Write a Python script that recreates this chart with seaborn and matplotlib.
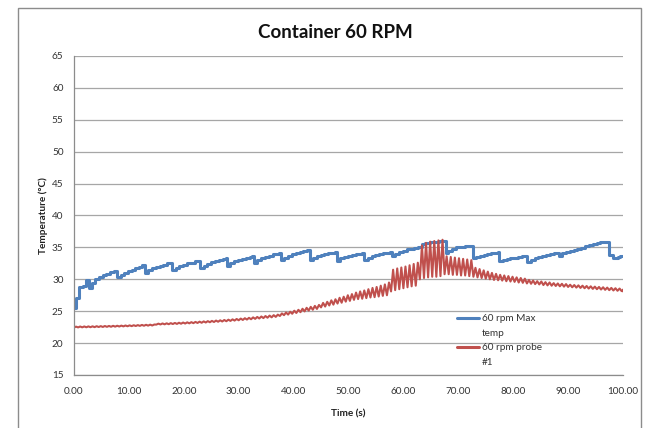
import numpy as np
import pandas as pd
import matplotlib
matplotlib.use("Agg")
import matplotlib.pyplot as plt
from matplotlib.patches import Rectangle
from matplotlib.ticker import StrMethodFormatter
from matplotlib.legend_handler import HandlerLine2D
import seaborn as sns

# ---- data -------------------------------------------------------------
# "60 rpm Max temp": stepped sensor reading, (time s, temperature degC) at each change
max_time = [0.0, 0.3, 0.9, 1.6, 2.2, 2.8, 3.3, 3.9, 4.5, 5.2, 5.9, 6.6, 7.2,
            7.9, 8.5, 9.1, 9.8, 10.5, 11.2, 11.9, 12.4,
            12.9, 13.5, 14.2, 14.9, 15.6, 16.3, 17.0, 17.5,
            17.9, 18.5, 19.2, 19.9, 20.6, 21.3, 22.0, 22.6,
            23.0, 23.6, 24.3, 25.0, 25.7, 26.4, 27.1, 27.6,
            27.9, 28.5, 29.2, 29.9, 30.6, 31.3, 32.0, 32.5,
            32.8, 33.4, 34.1, 34.8, 35.5, 36.2, 36.9, 37.4,
            37.7, 38.3, 39.0, 39.7, 40.4, 41.1, 41.8, 42.4,
            42.9, 43.5, 44.2, 44.9, 45.6, 46.3, 47.0, 47.5,
            47.9, 48.5, 49.2, 49.9, 50.6, 51.3, 52.0, 52.5,
            52.9, 53.5, 54.2, 54.9, 55.6, 56.3, 57.0, 57.5,
            57.9, 58.5, 59.2, 59.9, 60.6, 61.3, 62.0, 62.6, 63.3, 64.0, 64.8, 65.6, 66.4, 67.0,
            67.7, 68.2, 68.8, 69.5, 70.3, 71.2,
            72.6, 73.2, 73.9, 74.6, 75.3, 76.0, 76.7, 77.2,
            77.5, 78.1, 78.8, 79.5, 80.2, 80.9, 81.6, 82.2,
            82.6, 83.2, 83.9, 84.6, 85.3, 86.0, 86.7, 87.4,
            88.3, 88.9, 89.6, 90.3, 91.0, 91.7, 92.4, 93.1, 93.8, 94.5, 95.2, 95.9, 96.6, 97.1,
            97.5, 98.2, 99.0, 99.5, 100.0]
max_temp = [25.5, 27.0, 28.8, 29.0, 29.9, 28.7, 29.4, 30.0, 30.4, 30.7, 30.9, 31.1, 31.3,
            30.3, 30.7, 31.0, 31.3, 31.5, 31.7, 31.9, 32.2,
            31.0, 31.4, 31.7, 31.9, 32.1, 32.3, 32.5, 32.6,
            31.45, 31.8, 32.1, 32.3, 32.5, 32.6, 32.8, 32.9,
            31.7, 32.1, 32.4, 32.7, 32.9, 33.1, 33.2, 33.3,
            32.1, 32.5, 32.8, 33.0, 33.2, 33.4, 33.5, 33.65,
            32.6, 33.0, 33.3, 33.5, 33.7, 33.9, 34.0, 34.15,
            33.0, 33.4, 33.7, 33.9, 34.1, 34.3, 34.4, 34.6,
            33.1, 33.4, 33.7, 33.8, 34.0, 34.1, 34.2, 34.3,
            32.9, 33.3, 33.5, 33.7, 33.8, 33.9, 34.0, 34.1,
            33.1, 33.4, 33.6, 33.8, 34.0, 34.1, 34.2, 34.3,
            33.7, 34.0, 34.3, 34.5, 34.7, 34.8, 34.9, 35.0, 35.6, 35.7, 35.8, 35.9, 36.0, 36.05,
            34.2, 34.5, 34.8, 35.0, 35.1, 35.2,
            33.3, 33.5, 33.7, 33.8, 34.0, 34.1, 34.2, 34.3,
            32.9, 33.1, 33.2, 33.3, 33.4, 33.5, 33.6, 33.65,
            32.7, 33.0, 33.3, 33.5, 33.7, 33.8, 34.0, 34.1,
            33.6, 34.1, 34.3, 34.5, 34.6, 34.8, 34.9, 35.2, 35.4, 35.6, 35.7, 35.8, 35.85, 35.9,
            33.8, 33.3, 33.5, 33.6, 33.6]

# "60 rpm probe #1": one trough and one peak per revolution cycle
probe_period = 0.75
probe_low = [22.45, 22.46, 22.47, 22.48, 22.49, 22.50, 22.52, 22.53, 22.55, 22.56,
             22.58, 22.60, 22.62, 22.64, 22.66, 22.68, 22.70, 22.72, 22.74, 22.76,
             22.90, 22.92, 22.94, 22.96, 22.99, 23.01, 23.04, 23.07, 23.10, 23.13,
             23.16, 23.19, 23.23, 23.27, 23.31, 23.35, 23.39, 23.43, 23.48, 23.53,
             23.58, 23.63, 23.69, 23.74, 23.80, 23.86, 23.92, 23.98, 24.04, 24.11,
             24.25, 24.38, 24.47, 24.60, 24.72, 24.85, 24.97, 25.10, 25.23, 25.36,
             25.60, 25.73, 25.90, 26.03, 26.20, 26.33, 26.50, 26.62, 26.78, 26.90,
             26.95, 27.05, 27.15, 27.20, 27.30, 27.40, 27.50, 28.10, 28.30, 28.45,
             28.60, 28.75, 28.90, 29.00, 30.00, 30.20, 30.30, 30.40, 30.40, 30.50,
             30.80, 30.80, 30.70, 30.70, 30.60, 30.60, 30.50, 30.40, 30.30, 30.20,
             30.10, 30.00, 29.90, 29.85, 29.80, 29.70, 29.65, 29.60, 29.50, 29.45,
             29.35, 29.30, 29.25, 29.20, 29.10, 29.05, 29.00, 28.95, 28.90, 28.85,
             28.80, 28.75, 28.70, 28.65, 28.60, 28.55, 28.50, 28.45, 28.40, 28.35,
             28.30, 28.25, 28.20, 28.15]
probe_high = [22.58, 22.60, 22.61, 22.62, 22.63, 22.65, 22.66, 22.68, 22.69, 22.71,
              22.72, 22.74, 22.76, 22.78, 22.80, 22.82, 22.85, 22.87, 22.89, 22.91,
              23.05, 23.08, 23.10, 23.13, 23.16, 23.19, 23.22, 23.25, 23.28, 23.32,
              23.36, 23.40, 23.44, 23.48, 23.53, 23.57, 23.62, 23.67, 23.72, 23.78,
              23.84, 23.90, 23.96, 24.03, 24.10, 24.17, 24.24, 24.31, 24.38, 24.46,
              24.65, 24.80, 24.92, 25.08, 25.22, 25.38, 25.53, 25.68, 25.83, 25.98,
              26.30, 26.47, 26.70, 26.87, 27.10, 27.27, 27.50, 27.68, 27.92, 28.10,
              28.25, 28.45, 28.65, 28.80, 29.00, 29.20, 29.50, 31.50, 31.70, 31.85,
              32.00, 32.20, 32.40, 32.60, 35.30, 35.70, 35.90, 36.00, 36.10, 36.20,
              33.60, 33.50, 33.40, 33.30, 33.20, 33.10, 33.00, 31.80, 31.60, 31.40,
              31.20, 31.00, 30.85, 30.70, 30.60, 30.50, 30.40, 30.30, 30.20, 30.10,
              29.90, 29.80, 29.70, 29.65, 29.55, 29.50, 29.40, 29.35, 29.30, 29.25,
              29.15, 29.10, 29.05, 29.00, 28.95, 28.90, 28.85, 28.80, 28.75, 28.70,
              28.65, 28.60, 28.55, 28.45]
probe_end = (100.0, 28.10)

series_names = ["60 rpm Max\ntemp", "60 rpm probe\n#1"]
x_ticks = [0, 10, 20, 30, 40, 50, 60, 70, 80, 90, 100]
y_ticks = [15, 20, 25, 30, 35, 40, 45, 50, 55, 60, 65]

# ---- tables ---------------------------------------------------------------
max_df = pd.DataFrame({"time": max_time, "temp": max_temp})

probe_time, probe_temp = [], []
for k, (lo, hi) in enumerate(zip(probe_low, probe_high)):
    probe_time += [k * probe_period, k * probe_period + probe_period / 2]
    probe_temp += [lo, hi]
probe_time.append(probe_end[0])
probe_temp.append(probe_end[1])
probe_df = pd.DataFrame({"time": probe_time, "temp": probe_temp})

# ---- style ----------------------------------------------------------------
sns.set_theme(style="white")
plt.rcParams["font.family"] = ["Lato", "DejaVu Sans"]

BLUE = "#4F81BD"
RED = "#C0504D"
GRAY = "#8C8C8C"
TEXT = "#333333"

fig = plt.figure(figsize=(6.54, 4.28), dpi=100)
ax = fig.add_axes([74 / 654, 1 - 375 / 428, (623 - 74) / 654, (375 - 56) / 428])

sns.lineplot(data=max_df, x="time", y="temp", ax=ax, color=BLUE, lw=2.2,
             drawstyle="steps-post", estimator=None, sort=False,
             label=series_names[0])
sns.lineplot(data=probe_df, x="time", y="temp", ax=ax, color=RED, lw=1.5,
             estimator=None, sort=False, label=series_names[1])

ax.set_xlim(0, 100)
ax.set_ylim(15, 65)
ax.set_xticks(x_ticks)
ax.set_yticks(y_ticks)
ax.xaxis.set_major_formatter(StrMethodFormatter("{x:.2f}"))
ax.yaxis.grid(True, color="#A6A6A6", lw=0.9)
ax.xaxis.grid(False)
ax.set_axisbelow(True)

for side in ("top", "right"):
    ax.spines[side].set_visible(False)
for side in ("left", "bottom"):
    ax.spines[side].set_color(GRAY)
    ax.spines[side].set_linewidth(0.9)

ax.tick_params(axis="both", which="major", direction="out", length=3.5,
               width=0.8, color=GRAY, labelsize=7.2, labelcolor=TEXT)
ax.tick_params(axis="x", pad=5)
ax.tick_params(axis="y", pad=4)

ax.set_xlabel("Time (s)", fontsize=7.2, fontweight="bold", color="#222222", labelpad=10)
ax.set_ylabel("Temperature (°C)", fontsize=7.2, fontweight="bold", color="#222222", labelpad=3)

fig.text(335 / 654, 1 - 33 / 428, "Container 60 RPM", ha="center", va="center",
         fontsize=13.5, fontweight="bold", color="#111111")


class TopLineHandler(HandlerLine2D):
    """Legend sample aligned with the first line of a two-line label."""

    def create_artists(self, legend, orig_handle, xdescent, ydescent, width,
                       height, fontsize, trans):
        artists = super().create_artists(legend, orig_handle, xdescent, ydescent,
                                         width, height, fontsize, trans)
        for a in artists:
            a.set_ydata(np.asarray(a.get_ydata(), dtype=float) + 0.75 * fontsize)
            a.set_linewidth(2.2)
        return artists


handles, labels = ax.get_legend_handles_labels()
leg = ax.legend(handles, labels, loc="upper left", bbox_to_anchor=(0.698, 0.192),
                frameon=False, fontsize=7.2, handlelength=2.2, handletextpad=0.3,
                labelspacing=0.45, borderpad=0, borderaxespad=0,
                handler_map={h: TopLineHandler() for h in handles})
for t in leg.get_texts():
    t.set_color(TEXT)
    t.set_linespacing(1.9)

# chart-area border
fig.patches.append(Rectangle((18 / 654, -0.05), (641 - 18) / 654, 1.05 - 8 / 428,
                             transform=fig.transFigure, fill=False,
                             edgecolor="#8C8C8C", lw=1.0))

fig.savefig("out.png", dpi=100)
